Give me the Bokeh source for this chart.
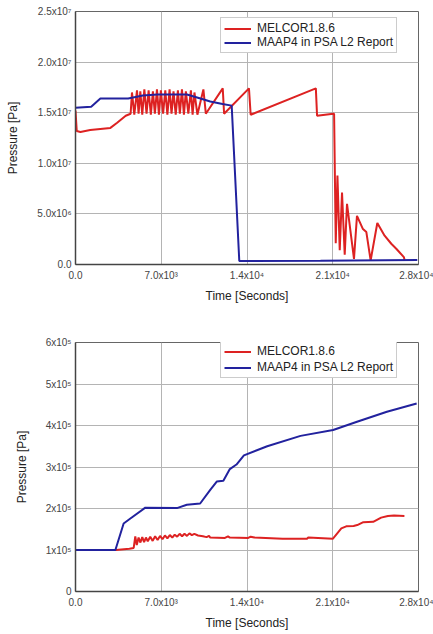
from bokeh.plotting import figure
from bokeh.layouts import column
from bokeh.models import FixedTicker, Range1d
from bokeh.embed import file_html
from bokeh.resources import INLINE

# ---------------- data: top panel (primary pressure) ----------------
top_melcor_t = [0, 100, 400, 1200, 2850, 3400, 4100, 4500,
                4610, 4800, 5020, 5150, 5290, 5450, 5620, 5800, 5970, 6150, 6320, 6480,
                6650, 6810, 6970, 7150, 7330, 7500, 7680, 7840, 8000, 8180, 8360, 8520,
                8690, 8850, 9010, 9210, 9420, 9560, 9710, 9950, 10440, 10640,
                12020, 12130, 14160, 14300, 19620, 19720, 21030, 21110,
                21244, 21383, 21570, 21757, 21977, 22164, 22734, 22978, 23466, 23743,
                24093, 24638, 25233, 25778, 26185, 26804, 26860]
top_melcor_p = [1.52e7, 1.32e7, 1.31e7, 1.33e7, 1.35e7, 1.40e7, 1.47e7, 1.49e7,
                1.70e7, 1.48e7, 1.72e7, 1.49e7, 1.71e7, 1.48e7, 1.73e7, 1.49e7, 1.72e7, 1.48e7, 1.71e7, 1.49e7,
                1.73e7, 1.48e7, 1.72e7, 1.49e7, 1.72e7, 1.48e7, 1.73e7, 1.49e7, 1.71e7, 1.48e7, 1.72e7, 1.49e7,
                1.73e7, 1.48e7, 1.71e7, 1.49e7, 1.72e7, 1.48e7, 1.70e7, 1.48e7, 1.73e7, 1.49e7,
                1.74e7, 1.49e7, 1.74e7, 1.48e7, 1.74e7, 1.47e7, 1.49e7, 1.49e7,
                2.1e6, 8.8e6, 1.4e6, 7.1e6, 0.96e6, 6.0e6, 0.56e6, 4.8e6, 3.5e6, 3.2e6,
                0.4e6, 4.1e6, 2.85e6, 2.05e6, 1.56e6, 0.73e6, 0.47e6]

top_maap_t = [0, 1280, 2030, 4300, 5500, 6700, 9100, 10200, 11000, 12000, 12750,
              13370, 20000, 27900]
top_maap_p = [1.55e7, 1.56e7, 1.64e7, 1.64e7, 1.67e7, 1.68e7, 1.68e7, 1.64e7, 1.61e7, 1.585e7, 1.57e7,
              0.35e6, 0.38e6, 0.45e6]

# ---------------- data: bottom panel (containment pressure) ----------------
bot_melcor_t = [0, 3300, 4400, 4750, 4880, 5000, 5150, 5300, 5450, 5600, 5750, 5900,
                6100, 6300, 6500, 6700, 6900, 7100, 7300, 7500, 7700, 7900, 8100, 8300,
                8500, 8700, 8900, 9100, 9300, 9500, 9700, 10000, 10400, 10700, 10900, 11000,
                12200, 12450, 12600, 14100, 14300, 14600, 16900, 18900, 19000, 21000,
                21700, 22100, 22700, 23000, 23500, 24300, 24950, 25500, 26000, 26850]
bot_melcor_p = [1.0e5, 1.0e5, 1.03e5, 1.05e5, 1.33e5, 1.12e5, 1.30e5, 1.18e5, 1.31e5, 1.19e5, 1.30e5, 1.21e5,
                1.32e5, 1.22e5, 1.33e5, 1.24e5, 1.34e5, 1.26e5, 1.35e5, 1.28e5, 1.36e5, 1.30e5, 1.37e5, 1.32e5,
                1.39e5, 1.33e5, 1.39e5, 1.34e5, 1.40e5, 1.36e5, 1.39e5, 1.35e5, 1.33e5, 1.31e5, 1.34e5, 1.30e5,
                1.29e5, 1.33e5, 1.30e5, 1.29e5, 1.32e5, 1.30e5, 1.27e5, 1.27e5, 1.30e5, 1.27e5,
                1.52e5, 1.57e5, 1.58e5, 1.60e5, 1.67e5, 1.68e5, 1.78e5, 1.82e5, 1.83e5, 1.82e5]

bot_maap_t = [0, 3256, 3930, 4480, 5700, 8280, 9090, 10175, 11000, 11530, 12070, 12600,
              13140, 13750, 15650, 18370, 21030, 22980, 25420, 27850]
bot_maap_p = [1.0e5, 1.0e5, 1.64e5, 1.76e5, 2.02e5, 2.01e5, 2.09e5, 2.12e5, 2.45e5, 2.65e5, 2.67e5, 2.95e5,
              3.06e5, 3.28e5, 3.50e5, 3.75e5, 3.89e5, 4.09e5, 4.33e5, 4.53e5]

x_ticks = [0, 7000, 14000, 21000, 28000]
x_tick_labels = ["0.0", "7.0x10³", "1.4x10⁴", "2.1x10⁴", "2.8x10⁴"]
top_y_ticks = [0, 5e6, 1e7, 1.5e7, 2e7, 2.5e7]
top_y_labels = ["0.0", "5.0x10⁶", "1.0x10⁷", "1.5x10⁷", "2.0x10⁷", "2.5x10⁷"]
bot_y_ticks = [0, 1e5, 2e5, 3e5, 4e5, 5e5, 6e5]
bot_y_labels = ["0", "1x10⁵", "2x10⁵", "3x10⁵", "4x10⁵", "5x10⁵", "6x10⁵"]

series_names = ["MELCOR1.8.6", "MAAP4 in PSA L2 Report"]
RED = "#dd2222"
BLUE = "#22229e"
FONT = "Liberation Sans"


def make_panel(height, top_b, bottom_b, ymax, yticks, ylabels,
               mt, mp, at, ap, legend_y, legend_spacing):
    p = figure(width=433, height=height, output_backend="svg", toolbar_location=None,
               x_range=Range1d(0, 28000), y_range=Range1d(0, ymax),
               min_border_left=75, min_border_right=15,
               min_border_top=top_b, min_border_bottom=bottom_b)
    p.background_fill_color = "white"
    p.border_fill_color = "white"
    p.outline_line_color = "#666666"
    p.outline_line_width = 1

    p.line(mt, mp, color=RED, line_width=2, legend_label=series_names[0])
    p.line(at, ap, color=BLUE, line_width=2, legend_label=series_names[1])

    p.xaxis.ticker = FixedTicker(ticks=x_ticks)
    p.xaxis.major_label_overrides = {float(k): v for k, v in zip(x_ticks, x_tick_labels)}
    p.yaxis.ticker = FixedTicker(ticks=yticks)
    p.yaxis.major_label_overrides = {float(k): v for k, v in zip(yticks, ylabels)}

    for ax in (p.xaxis, p.yaxis):
        ax.major_tick_line_color = None
        ax.minor_tick_line_color = None
        ax.major_tick_out = 0
        ax.major_tick_in = 0
        ax.minor_tick_out = 0
        ax.minor_tick_in = 0
        ax.axis_line_color = "#444444"
        ax.axis_line_width = 1.5
        ax.major_label_text_font = FONT
        ax.major_label_text_font_size = "10px"
        ax.major_label_text_color = "#444444"
        ax.axis_label_text_font = FONT
        ax.axis_label_text_font_size = "12px"
        ax.axis_label_text_font_style = "normal"
        ax.axis_label_text_color = "#222222"
    p.xaxis.axis_label = "Time [Seconds]"
    p.yaxis.axis_label = "Pressure [Pa]"
    p.xaxis.major_label_standoff = 5
    p.yaxis.major_label_standoff = 4
    p.xaxis.axis_label_standoff = 5
    p.yaxis.axis_label_standoff = 14

    p.grid.grid_line_color = "#b4b4b4"
    p.grid.grid_line_width = 1

    lg = p.legend[0]
    lg.location = (145, legend_y)
    lg.margin = 0
    lg.padding = 3
    lg.spacing = legend_spacing
    lg.glyph_width = 27
    lg.glyph_height = 13
    lg.label_height = 13
    lg.label_standoff = 6
    lg.label_text_font = FONT
    lg.label_text_font_size = "12px"
    lg.label_text_color = "#222222"
    lg.border_line_color = "#999999"
    lg.border_line_width = 1
    lg.background_fill_color = "white"
    lg.background_fill_alpha = 1
    return p


# top: frame 253 px tall, bottom: frame 252 px tall
p1 = make_panel(310, 11, 46, 2.5e7, top_y_ticks, top_y_labels,
                top_melcor_t, top_melcor_p, top_maap_t, top_maap_p, 211, 0)
p2 = make_panel(322, 32, 38, 6e5, bot_y_ticks, bot_y_labels,
                bot_melcor_t, bot_melcor_p, bot_maap_t, bot_maap_p, 213, 2)

layout = column(p1, p2, spacing=0)
open("out.html", "w").write(file_html(layout, INLINE))
